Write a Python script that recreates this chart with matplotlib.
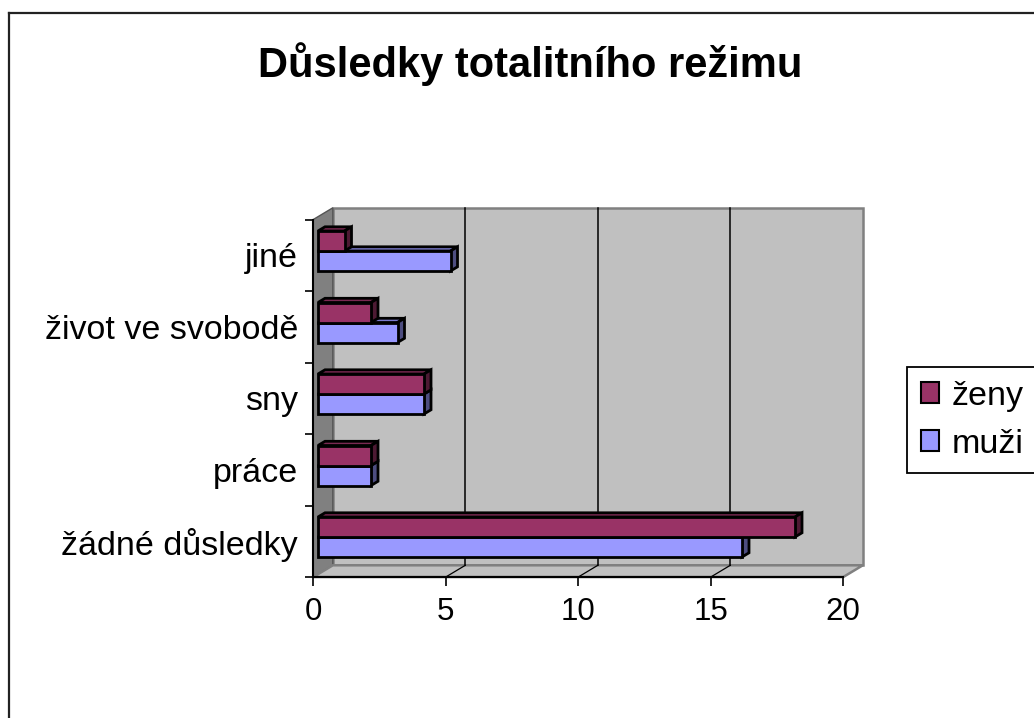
import matplotlib.pyplot as plt
from matplotlib.patches import Polygon, Rectangle
from matplotlib.lines import Line2D

plt.rcParams['font.family'] = ['Liberation Sans', 'DejaVu Sans']

# data
categories = ["žádné důsledky", "práce", "sny", "život ve svobodě", "jiné"]
series_names = ["ženy", "muži"]
zeny = [18, 2, 4, 2, 1]
muzi = [16, 2, 4, 3, 5]
x_ticks = [0, 5, 10, 15, 20]

ZENY_COL = "#993366"
MUZI_COL = "#9999ff"
ZENY_TOP, ZENY_SIDE = "#7a2952", "#4d1a33"
MUZI_TOP, MUZI_SIDE = "#7a7acc", "#4d4d80"

W, H = 1034, 718
fig = plt.figure(figsize=(W / 100, H / 100), dpi=100)

# front plane of the plot in pixels
px0, px1 = 313.3, 843.3
py0, py1 = 577.0, 219.5
ax = fig.add_axes([px0 / W, 1 - py0 / H, (px1 - px0) / W, (py0 - py1) / H])
xmax = x_ticks[-1]
ncat = len(categories)
ax.set_xlim(0, xmax)
ax.set_ylim(0, ncat)

ux = xmax / (px1 - px0)     # data units per pixel
uy = ncat / (py0 - py1)

# depth of the walls and of the bars
wdx, wdy = 19.5 * ux, 11.7 * uy
bdx, bdy = 7.0 * ux, 4.2 * uy
bx0 = 4.7 * ux
bh = 20.0 * uy
boff = 20.0 * uy

# walls
back = Polygon([(wdx, wdy), (xmax + wdx, wdy), (xmax + wdx, ncat + wdy), (wdx, ncat + wdy)],
               closed=True, facecolor="#c0c0c0", edgecolor="#808080", lw=1.8, zorder=1, clip_on=False)
side = Polygon([(0, 0), (wdx, wdy), (wdx, ncat + wdy), (0, ncat)],
               closed=True, facecolor="#808080", edgecolor="#555555", lw=1.0, zorder=1.5, clip_on=False)
floor = Polygon([(0, 0), (xmax, 0), (xmax + wdx, wdy), (wdx, wdy)],
                closed=True, facecolor="#c0c0c0", edgecolor="#808080", lw=1.8, zorder=1.5, clip_on=False)
for p in (back, side, floor):
    ax.add_patch(p)

# gridlines on back wall and floor
for t in x_ticks[1:-1]:
    ax.add_line(Line2D([t + wdx, t + wdx], [wdy, ncat + wdy], color="black", lw=1.1, zorder=2, clip_on=False))
    ax.add_line(Line2D([t, t + wdx], [0, wdy], color="black", lw=0.9, zorder=2, clip_on=False))


def bar3d(y0, val, front, top, sidec):
    x0 = bx0
    ec = dict(edgecolor="black", lw=2.0, joinstyle="miter", clip_on=False)
    ax.add_patch(Polygon([(x0, y0 + bh), (x0 + val, y0 + bh), (x0 + val + bdx, y0 + bh + bdy),
                          (x0 + bdx, y0 + bh + bdy)], closed=True, facecolor=top, zorder=3, **ec))
    ax.add_patch(Polygon([(x0 + val, y0), (x0 + val + bdx, y0 + bdy), (x0 + val + bdx, y0 + bh + bdy),
                          (x0 + val, y0 + bh)], closed=True, facecolor=sidec, zorder=3, **ec))
    ax.add_patch(Rectangle((x0, y0), val, bh, facecolor=front, zorder=3.5, **ec))


for i in range(ncat):
    bar3d(i + boff, muzi[i], MUZI_COL, MUZI_TOP, MUZI_SIDE)
    bar3d(i + boff + bh, zeny[i], ZENY_COL, ZENY_TOP, ZENY_SIDE)

# axes
for s in ("top", "right"):
    ax.spines[s].set_visible(False)
for s in ("left", "bottom"):
    ax.spines[s].set_color("black")
    ax.spines[s].set_linewidth(1.5)
    ax.spines[s].set_zorder(4)
ax.set_facecolor("none")

ax.set_xticks(x_ticks)
ax.set_xticklabels([str(t) for t in x_ticks])
ax.set_yticks(range(ncat + 1))
ax.set_yticklabels([])
ax.set_yticks([i + 0.5 for i in range(ncat)], minor=True)
ax.set_yticklabels(categories, minor=True)
ax.tick_params(axis="x", length=6.5, width=1.2, pad=8, labelsize=22.5, color="black")
ax.tick_params(axis="y", which="major", length=6, width=1.2, color="black")
ax.tick_params(axis="y", which="minor", length=0, pad=11, labelsize=24.5)

# title
fig.text(530 / W, 1 - 77 / H, "Důsledky totalitního režimu", ha="center", va="baseline",
         fontsize=30, fontweight="bold")

# legend
handles = [Rectangle((0, 0), 1, 1, facecolor=ZENY_COL, edgecolor="black", lw=1.5),
           Rectangle((0, 0), 1, 1, facecolor=MUZI_COL, edgecolor="black", lw=1.5)]
leg = fig.legend(handles, series_names, loc="upper left", bbox_to_anchor=(907 / W, 1 - 367 / H),
                 borderaxespad=0, fontsize=24.5, handlelength=0.55, handleheight=0.55,
                 handletextpad=0.35, labelspacing=0.5, borderpad=0.4, fancybox=False,
                 framealpha=1, edgecolor="black")
leg.get_frame().set_linewidth(1.3)

# chart area border
fig.add_artist(Line2D([8.5 / W, 8.5 / W], [0, 1 - 12.7 / H], color="#222222", lw=1.6))
fig.add_artist(Line2D([8.5 / W, 1], [1 - 12.7 / H, 1 - 12.7 / H], color="#222222", lw=1.6))

fig.savefig("out.png", dpi=100, facecolor="white")
